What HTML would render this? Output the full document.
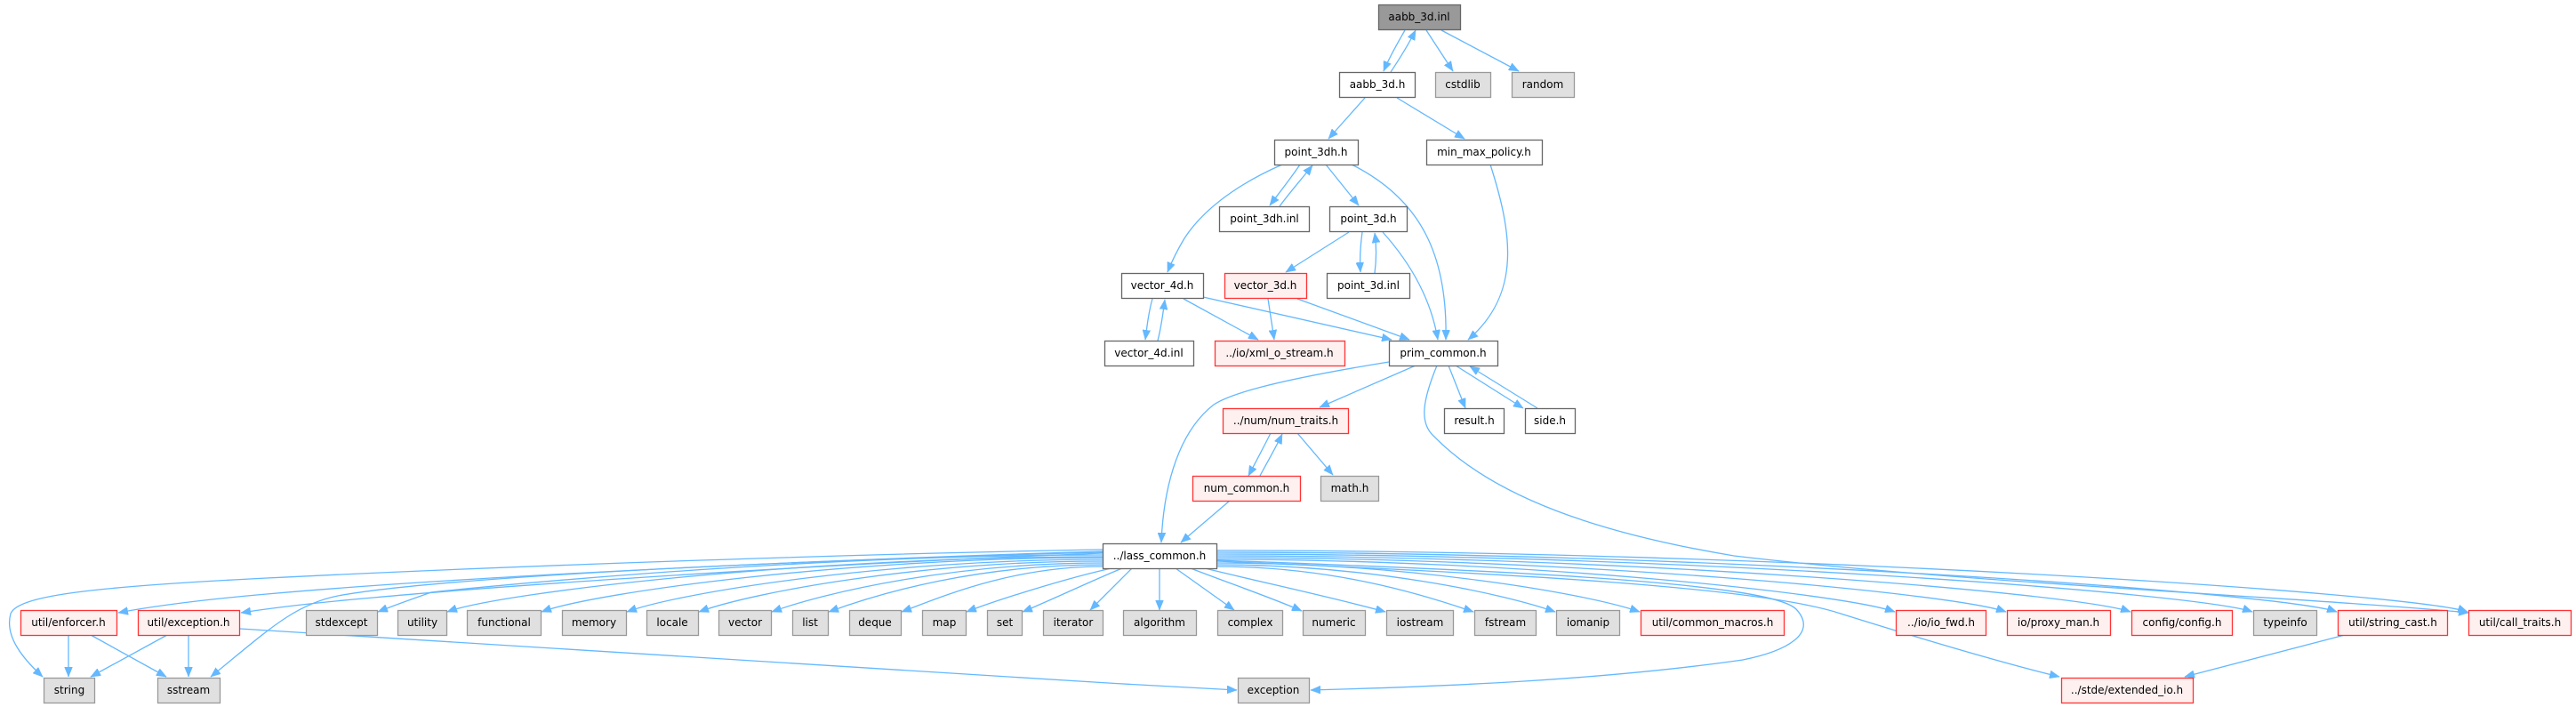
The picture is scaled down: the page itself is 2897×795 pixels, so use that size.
<!DOCTYPE html>
<html>
<head>
<meta charset="utf-8">
<style>
  html, body { margin: 0; padding: 0; background: #ffffff; }
  svg { display: block; }
  text { font-family: "DejaVu Sans", "Liberation Sans", sans-serif; font-size: 12px; fill: #000000; text-anchor: middle; }
  .n { fill: #ffffff; stroke: #666666; stroke-width: 1.3; }
  .g { fill: #e0e0e0; stroke: #999999; stroke-width: 1.3; }
  .r { fill: #fff0f0; stroke: #ff3333; stroke-width: 1.3; }
  .root { fill: #999999; stroke: #666666; stroke-width: 1.3; }
  .e { fill: none; stroke: #63b8ff; stroke-width: 1.3; marker-end: url(#ah); }
</style>
</head>
<body>
<svg width="2897" height="795" viewBox="0 0 2897 795" xmlns="http://www.w3.org/2000/svg">
<defs>
  <marker id="ah" markerUnits="userSpaceOnUse" markerWidth="12" markerHeight="9" refX="11" refY="4.5" orient="auto" viewBox="0 0 12 9">
    <path d="M0,0 L11,4.5 L0,9 z" fill="#63b8ff" stroke="#63b8ff" stroke-width="0.5"/>
  </marker>
</defs>
<rect x="0" y="0" width="2897" height="795" fill="#ffffff"/>

<!-- ===== EDGES ===== -->
<g>
  <!-- top section -->
  <path class="e" d="M1580,34 C1572,48 1563,63 1556,80"/>
  <path class="e" d="M1564,81 C1574,66 1584,50 1592,34"/>
  <path class="e" d="M1604,34 L1634,80"/>
  <path class="e" d="M1621,34 L1708,80"/>
  <path class="e" d="M1535,110 L1494,156"/>
  <path class="e" d="M1571,110 L1647,156"/>
  <path class="e" d="M1442,185 C1385,210 1350,240 1332,268 C1323,283 1317,296 1313,306"/>
  <path class="e" d="M1462,185 C1452,200 1440,215 1428,231"/>
  <path class="e" d="M1439,232 C1450,217 1464,201 1476,186"/>
  <path class="e" d="M1491,185 L1528,231"/>
  <path class="e" d="M1520,185 C1600,225 1628,290 1626,382"/>
  <path class="e" d="M1676,185 C1700,260 1712,330 1651,382"/>
  <path class="e" d="M1517,261 L1446,306"/>
  <path class="e" d="M1532,261 C1530,276 1529,292 1530,306"/>
  <path class="e" d="M1546,307 C1548,292 1548,276 1546,262"/>
  <path class="e" d="M1555,261 C1590,300 1610,340 1617,382"/>
  <path class="e" d="M1296,336 C1292,350 1290,366 1288,382"/>
  <path class="e" d="M1302,383 C1306,368 1308,352 1310,337"/>
  <path class="e" d="M1331,336 L1415,382"/>
  <path class="e" d="M1353,334 L1565,382"/>
  <path class="e" d="M1426,336 L1433,382"/>
  <path class="e" d="M1459,336 L1585,382"/>

  <!-- prim_common outgoing -->
  <path class="e" d="M1562,407 C1420,430 1380,445 1365,455 C1320,490 1308,560 1306,610"/>
  <path class="e" d="M1592,411 L1484,458"/>
  <path class="e" d="M1629,411 L1648,459"/>
  <path class="e" d="M1637,411 L1713,459"/>
  <path class="e" d="M1729,459 L1653,412"/>
  <path class="e" d="M1616,411 C1600,450 1596,475 1612,490 C1680,560 1800,600 1950,625 C2200,655 2600,672 2776,689"/>

  <!-- num traits -->
  <path class="e" d="M1429,487 C1420,505 1412,520 1404,535"/>
  <path class="e" d="M1417,535 C1426,518 1435,503 1442,488"/>
  <path class="e" d="M1459,487 L1499,534"/>
  <path class="e" d="M1383,563 L1328,610"/>

  <!-- lass_common left fan -->
  <path class="e" d="M1240,618 C1000,622 600,635 300,650 C100,660 20,670 12,690 C5,715 25,740 48,761"/>
  <path class="e" d="M1240,620 C900,630 500,650 300,668 C220,675 170,682 133,689"/>
  <path class="e" d="M1240,621 C900,630 500,648 380,670 C330,680 300,710 237,761"/>
  <path class="e" d="M1240,622 C900,635 550,660 420,672 C350,678 310,683 271,689"/>
  <path class="e" d="M1240,624 C873,624 485,666 485,666 C465,673 445,680 425,688"/>
  <path class="e" d="M1240,626 C908,626 563,666 503,688"/>
  <path class="e" d="M1240,627 C956,627 669,666 609,688"/>
  <path class="e" d="M1240,629 C999,629 765,666 705,688"/>
  <path class="e" d="M1240,631 C1036,631 846,666 786,688"/>
  <path class="e" d="M1240,633 C1073,633 928,666 868,688"/>
  <path class="e" d="M1240,635 C1101,635 992,666 932,688"/>
  <path class="e" d="M1240,637 C1138,637 1059,671 1014,688"/>
  <path class="e" d="M1250,639 C1200,650 1120,675 1087,688"/>
  <path class="e" d="M1262,639 C1230,652 1175,678 1150,688"/>
  <path class="e" d="M1273,639 L1226,686"/>
  <path class="e" d="M1304,639 L1304,686"/>
  <path class="e" d="M1322,639 L1388,686"/>
  <path class="e" d="M1339,639 C1380,655 1430,672 1464,687"/>

  <!-- lass_common right fan -->
  <path class="e" d="M1355,639 C1420,655 1500,672 1558,688"/>
  <path class="e" d="M1368,637 C1498,637 1599,668 1657,688"/>
  <path class="e" d="M1368,635 C1539,635 1689,667 1749,688"/>
  <path class="e" d="M1368,633 C1582,633 1784,667 1844,688"/>
  <path class="e" d="M1368,629 C1711,629 2071,667 2131,688"/>
  <path class="e" d="M1368,627 C1768,627 2196,667 2256,688"/>
  <path class="e" d="M1368,625 C1831,625 2336,667 2396,688"/>
  <path class="e" d="M1368,623 C1892,623 2473,667 2533,688"/>
  <path class="e" d="M1368,621 C1935,621 2568,667 2628,688"/>
  <path class="e" d="M1368,619 C2001,619 2715,667 2775,688"/>
  <path class="e" d="M1368,631 C1700,645 1980,660 2070,690 C2150,715 2250,745 2316,761"/>
  <path class="e" d="M1368,630 C1700,642 1990,655 2020,685 C2045,712 2010,732 1960,742 C1800,765 1620,772 1474,776"/>

  <!-- bottom-left -->
  <path class="e" d="M270,707 C600,730 1000,755 1391,776"/>
  <path class="e" d="M77,714 L77,761"/>
  <path class="e" d="M102,714 L187,761"/>
  <path class="e" d="M188,714 L102,761"/>
  <path class="e" d="M212,714 L212,761"/>
  <path class="e" d="M2637,714 L2457,761"/>
</g>

<!-- ===== NODES ===== -->
<g>
  <rect class="root" x="1550.5" y="5.5" width="92" height="28"/><text x="1596" y="23">aabb_3d.inl</text>

  <rect class="n" x="1506.5" y="81.5" width="85" height="28"/><text x="1549" y="99">aabb_3d.h</text>
  <rect class="g" x="1614.5" y="81.5" width="62" height="28"/><text x="1645" y="99">cstdlib</text>
  <rect class="g" x="1700.5" y="81.5" width="70" height="28"/><text x="1735" y="99">random</text>

  <rect class="n" x="1433.5" y="157.5" width="94" height="28"/><text x="1480" y="175">point_3dh.h</text>
  <rect class="n" x="1604.5" y="157.5" width="130" height="28"/><text x="1669" y="175">min_max_policy.h</text>

  <rect class="n" x="1371.5" y="232.5" width="101" height="28"/><text x="1422" y="250">point_3dh.inl</text>
  <rect class="n" x="1495.5" y="232.5" width="87" height="28"/><text x="1539" y="250">point_3d.h</text>

  <rect class="n" x="1261.5" y="307.5" width="92" height="28"/><text x="1307" y="325">vector_4d.h</text>
  <rect class="r" x="1377.5" y="307.5" width="92" height="28"/><text x="1423" y="325">vector_3d.h</text>
  <rect class="n" x="1492.5" y="307.5" width="93" height="28"/><text x="1539" y="325">point_3d.inl</text>

  <rect class="n" x="1242.5" y="383.5" width="100" height="28"/><text x="1292" y="401">vector_4d.inl</text>
  <rect class="r" x="1366.5" y="383.5" width="146" height="28"/><text x="1439" y="401">../io/xml_o_stream.h</text>
  <rect class="n" x="1562.5" y="383.5" width="122" height="28"/><text x="1623" y="401">prim_common.h</text>

  <rect class="r" x="1375.5" y="459.5" width="141" height="28"/><text x="1446" y="477">../num/num_traits.h</text>
  <rect class="n" x="1624.5" y="459.5" width="67" height="28"/><text x="1658" y="477">result.h</text>
  <rect class="n" x="1715.5" y="459.5" width="56" height="28"/><text x="1743" y="477">side.h</text>

  <rect class="r" x="1341.5" y="535.5" width="121" height="28"/><text x="1402" y="553">num_common.h</text>
  <rect class="g" x="1485.5" y="535.5" width="65" height="28"/><text x="1518" y="553">math.h</text>

  <rect class="n" x="1240.5" y="611.5" width="128" height="28"/><text x="1304" y="629">../lass_common.h</text>

  <!-- row 686 -->
  <rect class="r" x="23.5" y="686.5" width="108" height="28"/><text x="77" y="704">util/enforcer.h</text>
  <rect class="r" x="155.5" y="686.5" width="114" height="28"/><text x="212" y="704">util/exception.h</text>
  <rect class="g" x="344.5" y="686.5" width="80" height="28"/><text x="384" y="704">stdexcept</text>
  <rect class="g" x="447.5" y="686.5" width="55" height="28"/><text x="475" y="704">utility</text>
  <rect class="g" x="525.5" y="686.5" width="83" height="28"/><text x="567" y="704">functional</text>
  <rect class="g" x="632.5" y="686.5" width="72" height="28"/><text x="668" y="704">memory</text>
  <rect class="g" x="727.5" y="686.5" width="58" height="28"/><text x="756" y="704">locale</text>
  <rect class="g" x="808.5" y="686.5" width="59" height="28"/><text x="838" y="704">vector</text>
  <rect class="g" x="891.5" y="686.5" width="40" height="28"/><text x="911" y="704">list</text>
  <rect class="g" x="955.5" y="686.5" width="58" height="28"/><text x="984" y="704">deque</text>
  <rect class="g" x="1037.5" y="686.5" width="49" height="28"/><text x="1062" y="704">map</text>
  <rect class="g" x="1110.5" y="686.5" width="39" height="28"/><text x="1130" y="704">set</text>
  <rect class="g" x="1173.5" y="686.5" width="67" height="28"/><text x="1207" y="704">iterator</text>
  <rect class="g" x="1263.5" y="686.5" width="82" height="28"/><text x="1304" y="704">algorithm</text>
  <rect class="g" x="1369.5" y="686.5" width="73" height="28"/><text x="1406" y="704">complex</text>
  <rect class="g" x="1465.5" y="686.5" width="70" height="28"/><text x="1500" y="704">numeric</text>
  <rect class="g" x="1559.5" y="686.5" width="75" height="28"/><text x="1597" y="704">iostream</text>
  <rect class="g" x="1658.5" y="686.5" width="69" height="28"/><text x="1693" y="704">fstream</text>
  <rect class="g" x="1750.5" y="686.5" width="71" height="28"/><text x="1786" y="704">iomanip</text>
  <rect class="r" x="1845.5" y="686.5" width="161" height="28"/><text x="1926" y="704">util/common_macros.h</text>
  <rect class="r" x="2132.5" y="686.5" width="101" height="28"/><text x="2183" y="704">../io/io_fwd.h</text>
  <rect class="r" x="2257.5" y="686.5" width="116" height="28"/><text x="2315" y="704">io/proxy_man.h</text>
  <rect class="r" x="2397.5" y="686.5" width="113" height="28"/><text x="2454" y="704">config/config.h</text>
  <rect class="g" x="2534.5" y="686.5" width="71" height="28"/><text x="2570" y="704">typeinfo</text>
  <rect class="r" x="2629.5" y="686.5" width="123" height="28"/><text x="2691" y="704">util/string_cast.h</text>
  <rect class="r" x="2776.5" y="686.5" width="115" height="28"/><text x="2834" y="704">util/call_traits.h</text>

  <!-- row 762 -->
  <rect class="g" x="49.5" y="762.5" width="57" height="28"/><text x="78" y="780">string</text>
  <rect class="g" x="177.5" y="762.5" width="70" height="28"/><text x="212" y="780">sstream</text>
  <rect class="g" x="1392.5" y="762.5" width="80" height="28"/><text x="1432" y="780">exception</text>
  <rect class="r" x="2318.5" y="762.5" width="148" height="28"/><text x="2392" y="780">../stde/extended_io.h</text>
</g>
</svg>
</body>
</html>
